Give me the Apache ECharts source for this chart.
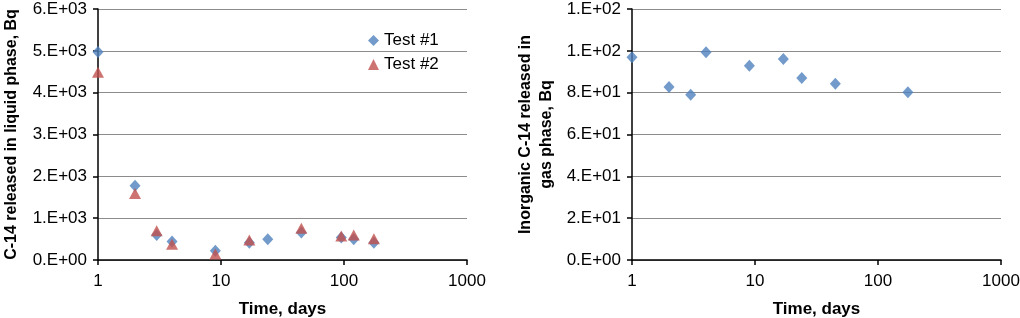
<!DOCTYPE html>
<html>
<head>
<meta charset="utf-8">
<script src="https://cdn.jsdelivr.net/npm/echarts@6/dist/echarts.min.js"></script>
<style>
  html, body { margin: 0; padding: 0; background: #fff; }
  #chart { width: 1020px; height: 318px; }
</style>
</head>
<body>
<div id="chart"></div>
<script>
// left panel: C-14 in liquid phase
const daysTest1 = [1, 2, 3, 4, 9, 17, 24, 45, 95, 120, 175];
const liquidTest1 = [4970, 1775, 600, 440, 220, 410, 495, 655, 535, 495, 415];
const daysTest2 = [1, 2, 3, 4, 9, 17, 45, 95, 120, 175];
const liquidTest2 = [4490, 1590, 700, 375, 145, 480, 760, 575, 600, 510];
// right panel: inorganic C-14 in gas phase
const gasDays = [1, 2, 3, 4, 9, 17, 24, 45, 175];
const gasValues = [96.9, 82.7, 79.0, 99.3, 92.9, 96.1, 87.0, 84.3, 80.2];

const leftYLabels = ["0.E+00", "1.E+03", "2.E+03", "3.E+03", "4.E+03", "5.E+03", "6.E+03"];
const rightYLabels = ["0.E+00", "2.E+01", "4.E+01", "6.E+01", "8.E+01", "1.E+02", "1.E+02"];
const xLabels = { 1: "1", 10: "10", 100: "100", 1000: "1000" };

const FONT = "'Liberation Sans', Arial, sans-serif";
const BLUE = "#4f81bd";
const RED = "#c0504d";

function pairs(xs, ys) {
  return xs.map((x, i) => [x, ys[i]]);
}

function xAxisCfg(gridIndex) {
  return {
    type: "log",
    logBase: 10,
    min: 1,
    max: 1000,
    gridIndex: gridIndex,
    name: "Time, days",
    nameLocation: "middle",
    nameGap: 41,
    nameTextStyle: { fontFamily: FONT, fontSize: 17, fontWeight: "bold", color: "#000" },
    axisLine: { show: true, lineStyle: { color: "#000", width: 1.5 } },
    axisTick: { show: true, length: 5, lineStyle: { color: "#000", width: 1.5 } },
    minorTick: { show: false },
    splitLine: { show: false },
    axisLabel: {
      margin: 13,
      fontFamily: FONT,
      fontSize: 17,
      color: "#000",
      formatter: (v) => xLabels[Math.round(v)] || "",
    },
  };
}

function yAxisCfg(gridIndex, max, interval, labels, name, nameGap) {
  return {
    type: "value",
    gridIndex: gridIndex,
    min: 0,
    max: max,
    interval: interval,
    name: name,
    nameLocation: "middle",
    nameRotate: 90,
    nameGap: nameGap,
    nameTextStyle: {
      fontFamily: FONT,
      fontSize: 16,
      fontWeight: "bold",
      color: "#000",
      lineHeight: 21,
    },
    axisLine: { show: true, lineStyle: { color: "#000", width: 1.5 } },
    axisTick: { show: true, length: 5, lineStyle: { color: "#000", width: 1.5 } },
    splitLine: { show: true, lineStyle: { color: "#8c8c8c", width: 1.2 } },
    axisLabel: {
      margin: 11,
      fontFamily: FONT,
      fontSize: 17,
      color: "#000",
      formatter: (v) => labels[Math.round(v / interval)],
    },
  };
}

const chart = echarts.init(document.getElementById("chart"));

const option = {
  backgroundColor: "#fff",
  animation: false,
  grid: [
    { left: 98, right: 553, top: 9, bottom: 58, containLabel: false, outerBoundsMode: "none" },
    { left: 632, right: 19, top: 9, bottom: 58, containLabel: false, outerBoundsMode: "none" },
  ],
  legend: {
    orient: "vertical",
    left: 363,
    top: 27,
    itemWidth: 11,
    itemHeight: 11,
    itemGap: 7,
    textStyle: { fontFamily: FONT, fontSize: 17, color: "#000" },
    data: ["Test #1", "Test #2"],
  },
  xAxis: [xAxisCfg(0), xAxisCfg(1)],
  yAxis: [
    yAxisCfg(0, 6000, 1000, leftYLabels, "C-14 released in liquid phase, Bq", 76),
    yAxisCfg(1, 120, 20, rightYLabels, "Inorganic C-14 released in\ngas phase, Bq", 75),
  ],
  series: [
    {
      name: "Test #1",
      type: "scatter",
      xAxisIndex: 0,
      yAxisIndex: 0,
      symbol: "diamond",
      symbolSize: [11, 12],
      itemStyle: { color: BLUE },
      data: pairs(daysTest1, liquidTest1),
      z: 3,
    },
    {
      name: "Test #2",
      type: "scatter",
      xAxisIndex: 0,
      yAxisIndex: 0,
      symbol: "triangle",
      symbolSize: [12, 11],
      itemStyle: { color: RED },
      data: pairs(daysTest2, liquidTest2),
      z: 4,
    },
    {
      name: "Gas",
      type: "scatter",
      xAxisIndex: 1,
      yAxisIndex: 1,
      symbol: "diamond",
      symbolSize: [11, 12],
      itemStyle: { color: BLUE },
      data: pairs(gasDays, gasValues),
    },
  ],
};

chart.setOption(option);
</script>
</body>
</html>
